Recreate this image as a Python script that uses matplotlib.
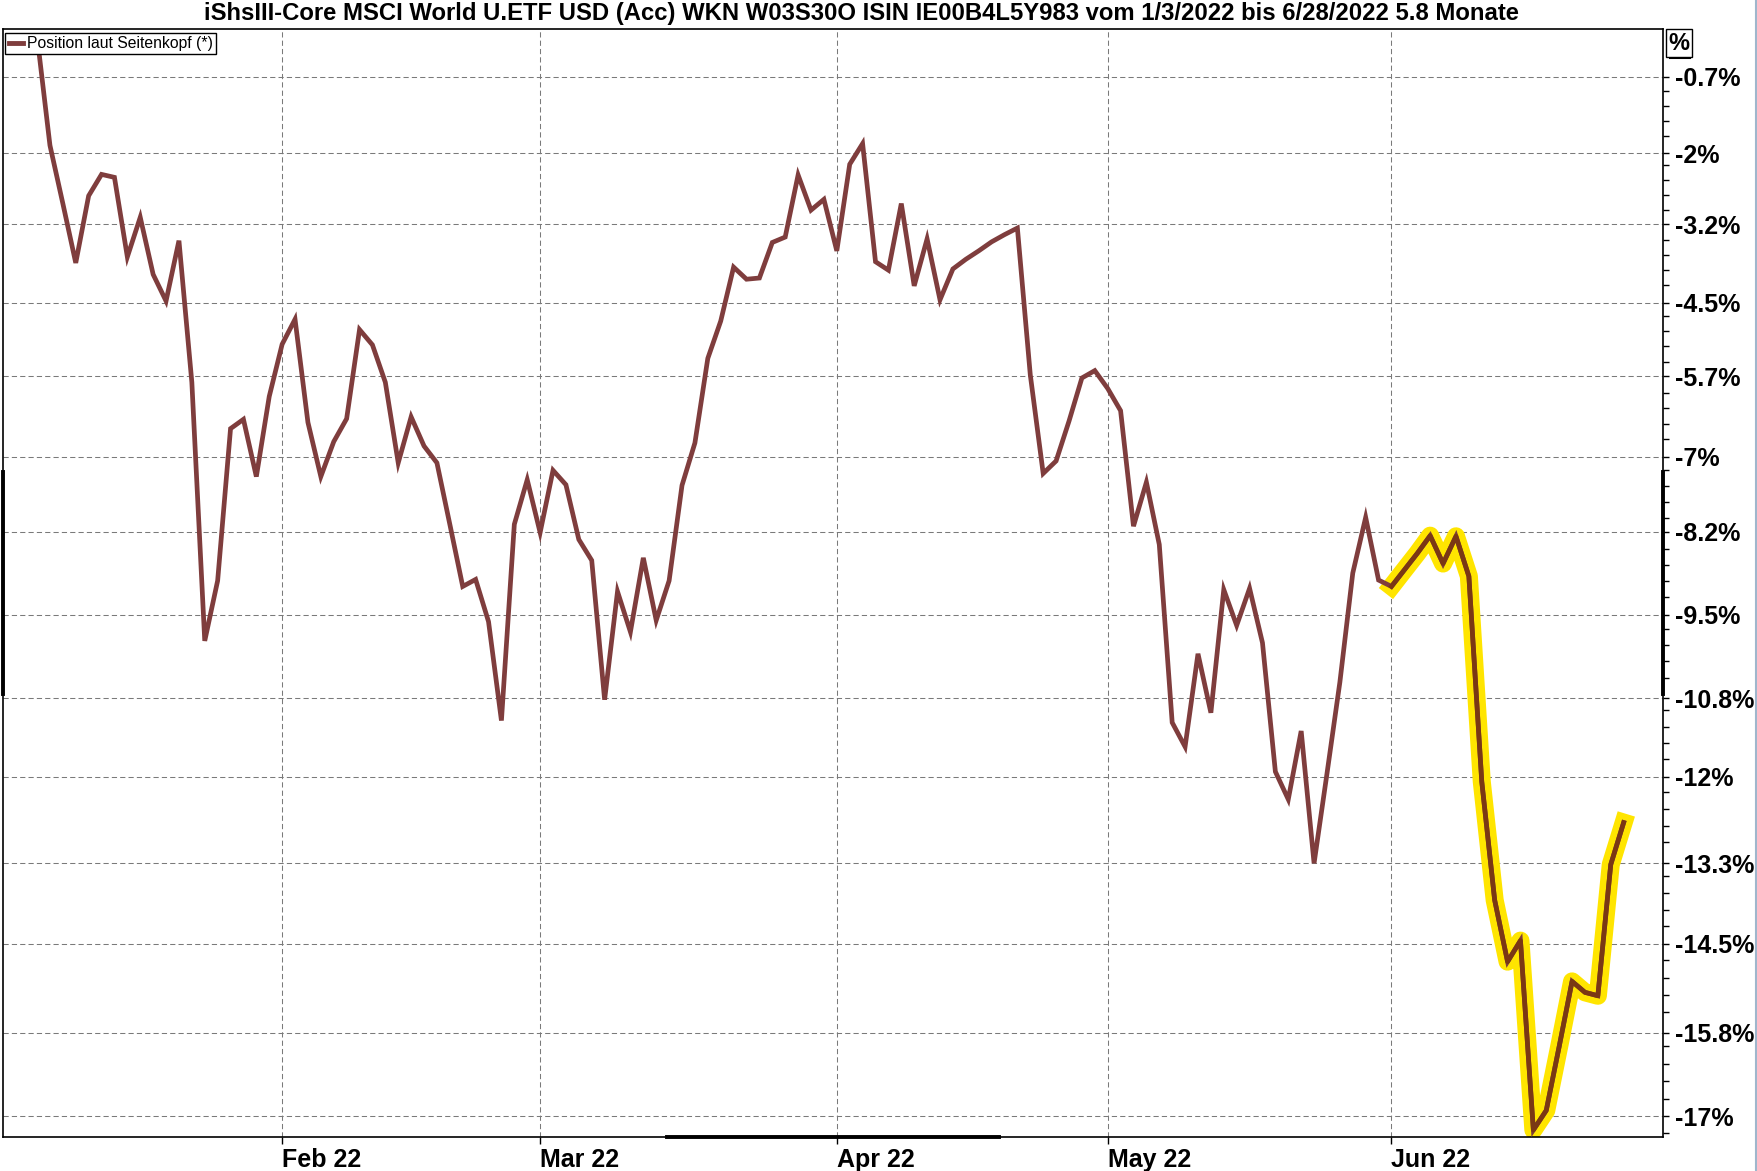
import numpy as np
import pandas as pd
import matplotlib
matplotlib.use('Agg')
import matplotlib.pyplot as plt
from matplotlib.lines import Line2D

# Wertentwicklung in % seit Start (Handelstage)
title = ('iShsIII-Core MSCI World U.ETF USD (Acc) WKN W03S30O ISIN IE00B4L5Y983 '
         'vom 1/3/2022 bis 6/28/2022 5.8 Monate')
legend_label = 'Position laut Seitenkopf (*)'

dates = pd.bdate_range('2022-01-05', '2022-06-28', freq='C', holidays=['2022-06-06'])

perf = [0.0, -1.87, -2.85, -3.84, -2.72, -2.36, -2.41, -3.74, -3.08, -4.03,
        -4.47, -3.47, -5.80, -9.91, -8.97, -6.55, -6.40, -7.32, -6.03, -5.18,
        -4.77, -6.45, -7.32, -6.76, -6.39, -4.94, -5.19, -5.80, -7.10, -6.36,
        -6.83, -7.10, -8.08, -9.06, -8.95, -9.61, -11.14, -8.08, -7.37, -8.21,
        -7.22, -7.45, -8.32, -8.65, -10.82, -9.14, -9.77, -8.61, -9.59, -8.97,
        -7.46, -6.78, -5.41, -4.80, -3.91, -4.11, -4.09, -3.50, -3.41, -2.37,
        -2.96, -2.78, -3.64, -2.19, -1.84, -3.82, -3.96, -2.85, -4.22, -3.44,
        -4.45, -3.94, -3.78, -3.64, -3.49, -3.37, -3.26, -5.68, -7.27, -7.07,
        -6.43, -5.73, -5.61, -5.90, -6.26, -8.11, -7.41, -8.40, -11.17, -11.54,
        -10.11, -11.02, -9.11, -9.67, -9.09, -9.94, -11.92, -12.34, -11.30, -13.30,
        -11.95, -10.55, -8.85, -7.97, -8.96, -9.06, -8.80, -8.54, -8.26, -8.70,
        -8.27, -8.90, -12.07, -13.85, -14.76, -14.45, -17.20, -16.92, -16.00, -15.05,
        -15.21, -15.26, -13.32, -12.69]

ytick_vals = [-0.7, -2, -3.2, -4.5, -5.7, -7, -8.2, -9.5, -10.8, -12, -13.3, -14.5, -15.8, -17]
ytick_labels = ['-0.7%', '-2%', '-3.2%', '-4.5%', '-5.7%', '-7%', '-8.2%', '-9.5%',
                '-10.8%', '-12%', '-13.3%', '-14.5%', '-15.8%', '-17%']

highlight_from = '2022-06-01'

x = np.arange(len(perf))
y = np.array(perf)

line_col = '#7f3d3d'
hl_col = '#ffe500'
font_main = ['Liberation Sans', 'DejaVu Sans']

W, H = 1758, 1171
fig = plt.figure(figsize=(W / 100, H / 100), dpi=100)
ax = fig.add_axes([3 / W, 1 - 1137 / H, 1660 / W, 1108 / H])

# log-Skala auf Basis des Kursverhältnisses
def fwd(p):
    return np.log1p(np.asarray(p, dtype=float) / 100.0)

def inv(v):
    return np.expm1(np.asarray(v, dtype=float)) * 100.0

ax.set_yscale('function', functions=(fwd, inv))

# Markierung Juni (Textmarker)
hl = dates >= pd.Timestamp(highlight_from)
ax.plot(x[hl], y[hl], color=hl_col, lw=13, solid_capstyle='projecting',
        solid_joinstyle='round', zorder=2)
ax.plot(x, y, color=line_col, lw=3.4, solid_joinstyle='miter', zorder=3)
i0 = np.argmax(hl)
ax.plot(x[i0:], y[i0:], color='#7a3814', lw=3.4, zorder=4)

ax.set_xlim(-2.64, 126.05)
ax.set_ylim(-17.3, 0.12)

# Monatsanfänge
month_pos = [i for i in range(1, len(dates)) if dates[i].month != dates[i - 1].month]
month_lab = [dates[i].strftime('%b %y') for i in month_pos]
ax.set_xticks(month_pos)
ax.set_xticklabels(month_lab, ha='left', fontweight='bold', fontsize=18, family=font_main)

ax.set_yticks(ytick_vals)
ax.set_yticklabels(ytick_labels, fontweight='bold', fontsize=18, family=font_main)
minor = np.linspace(ytick_vals[0], ytick_vals[-1], (len(ytick_vals) - 1) * 5 + 1)
minor = [m for k, m in enumerate(minor) if k % 5 != 0] + [ytick_vals[-1] - 0.25]
ax.set_yticks(minor, minor=True)
ax.yaxis.tick_right()
ax.tick_params(axis='y', which='both', direction='out', length=4, width=1, pad=5,
               left=False, right=True, labelleft=False, labelright=True)
ax.tick_params(axis='x', which='both', direction='out', length=5, width=1, pad=3)
ax.xaxis.set_minor_locator(matplotlib.ticker.NullLocator())

ax.grid(True, which='major', color='#7a7a7a', linestyle=(0, (5, 3)), linewidth=0.75)
ax.set_axisbelow(True)
for s in ax.spines.values():
    s.set_linewidth(1.2)
    s.set_color('black')

# Bereichsmarkierung auf den Achsen
ax.plot([0.4, 0.6], [0, 0], color='black', lw=2.8, transform=ax.transAxes, clip_on=False)
ax.plot([1, 1], [0.4, 0.6], color='black', lw=2.8, transform=ax.transAxes, clip_on=False)
ax.plot([0, 0], [0.4, 0.6], color='black', lw=2.8, transform=ax.transAxes, clip_on=False)

handle = Line2D([], [], color=line_col, lw=3.5)
leg = ax.legend([handle], [legend_label], loc='upper left', bbox_to_anchor=(0.0015, 0.9968),
                frameon=True, fancybox=False, edgecolor='black', framealpha=1,
                borderpad=0.22, borderaxespad=0, handlelength=0.9, handletextpad=0.25,
                prop={'family': font_main, 'size': 11.3})
leg.get_frame().set_linewidth(1.0)

fig.text(0.490, 1 - 13.5 / H, title, ha='center', va='center', fontweight='bold',
         fontsize=17.2, family=font_main)

# Einheit oben rechts
fig.text(1679 / W, 1 - 43 / H, '%', ha='center', va='center', fontweight='bold',
         fontsize=17, family=font_main,
         bbox=dict(boxstyle='square,pad=0.12', fc='white', ec='black', lw=1))
fig.add_artist(Line2D([1670 / W, 1689 / W], [1 - 57 / H, 1 - 57 / H], color='black', lw=2.2))
fig.add_artist(Line2D([1 - 1.5 / W, 1 - 1.5 / W], [0, 1], color='#9fb6cc', lw=1.5))

fig.savefig('out.png', dpi=100)
